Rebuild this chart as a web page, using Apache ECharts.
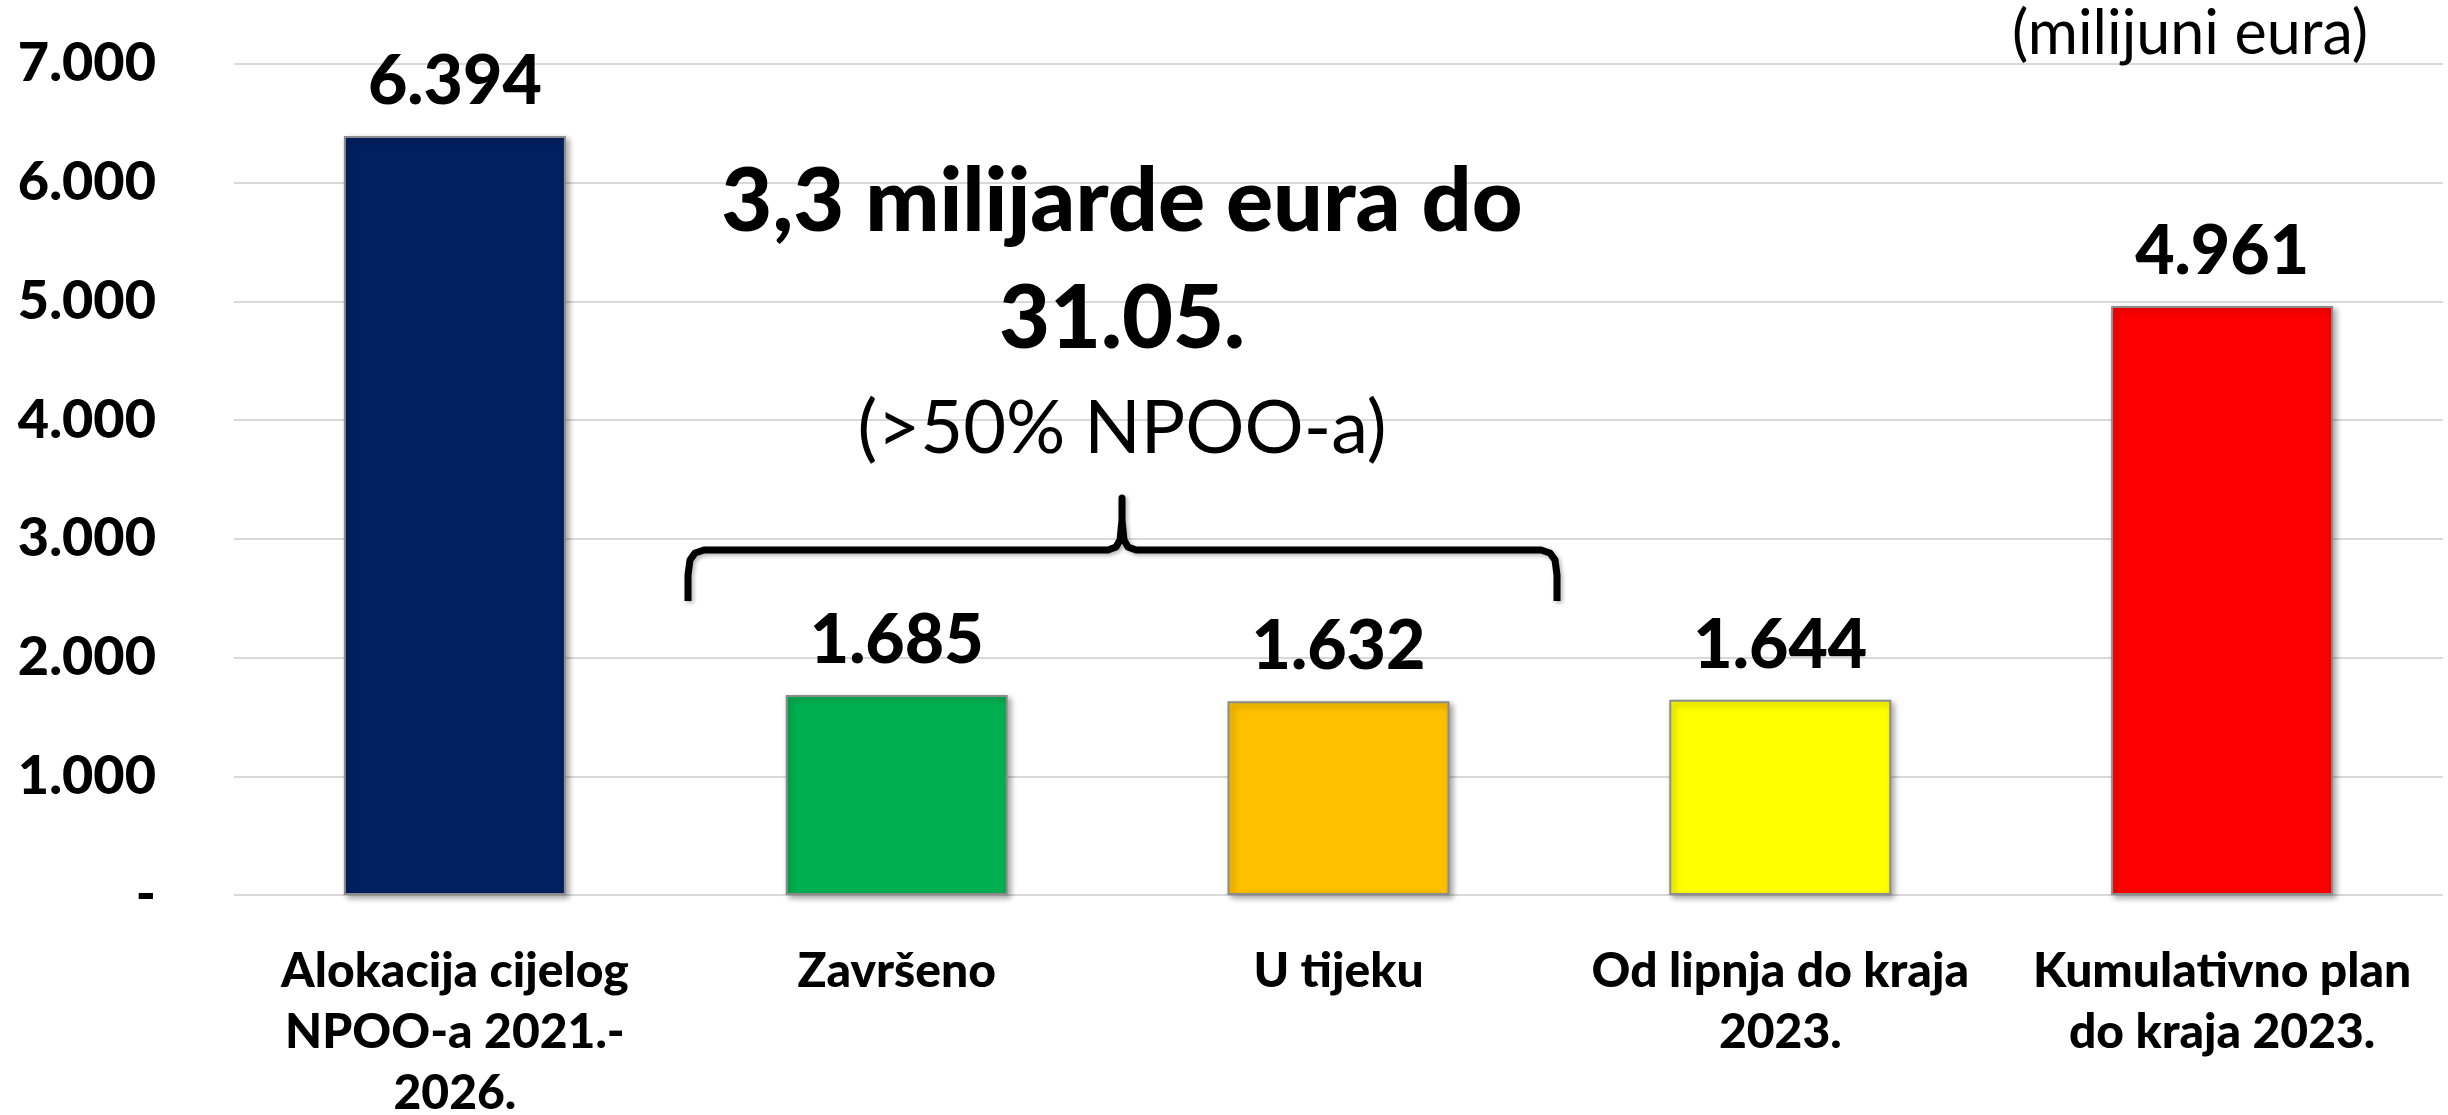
<!DOCTYPE html>
<html>
<head>
<meta charset="utf-8">
<script src="https://cdn.jsdelivr.net/npm/echarts@6/dist/echarts.min.js"></script>
<style>
  html, body { margin: 0; padding: 0; background: #fff; }
  #chart { width: 2448px; height: 1115px; }
</style>
</head>
<body>
<div id="chart"></div>
<script>
var categories = ['Alokacija cijelog\nNPOO-a 2021.-\n2026.', 'Završeno', 'U tijeku', 'Od lipnja do kraja\n2023.', 'Kumulativno plan\ndo kraja 2023.'];
var values = [6394, 1685, 1632, 1644, 4961];
var barColors = ['#002060', '#00B050', '#FFC000', '#FFFF00', '#FF0000'];
var yTicks = [0, 1000, 2000, 3000, 4000, 5000, 6000, 7000];

function fmt(v) {
    if (v === 0) return '-';
    return String(v).replace(/\B(?=(\d{3})+(?!\d))/g, '.');
}

var font = 'Lato, "Open Sans", sans-serif';

var chart = echarts.init(document.getElementById('chart'));
chart.setOption({
    animation: false,
    grid: { left: 234, right: 5, top: 64, bottom: 220, containLabel: false, outerBoundsMode: 'none' },
    xAxis: {
        type: 'category',
        data: categories,
        axisLine: { show: false },
        axisTick: { show: false },
        axisLabel: {
            interval: 0,
            margin: 46,
            color: '#000',
            fontFamily: font,
            fontWeight: 900,
            fontSize: 48,
            lineHeight: 61
        }
    },
    yAxis: {
        type: 'value',
        min: yTicks[0],
        max: yTicks[yTicks.length - 1],
        interval: 1000,
        axisLine: { show: false },
        axisTick: { show: false },
        splitLine: { lineStyle: { color: '#d9d9d9', width: 2 } },
        axisLabel: {
            margin: 78,
            color: '#000',
            fontFamily: font,
            fontWeight: 900,
            fontSize: 54,
            formatter: fmt
        }
    },
    series: [{
        type: 'bar',
        barWidth: 222,
        data: values.map(function (v, i) {
            return {
                value: v,
                itemStyle: { color: barColors[i] }
            };
        }),
        itemStyle: {
            borderColor: '#8c8c8c',
            borderWidth: 2,
            shadowColor: 'rgba(0,0,0,0.35)',
            shadowBlur: 6,
            shadowOffsetX: 3,
            shadowOffsetY: 3
        },
        label: {
            show: true,
            position: 'top',
            distance: 20,
            color: '#000',
            fontFamily: font,
            fontWeight: 900,
            fontSize: 68,
            formatter: function (p) { return fmt(p.value); }
        }
    }],
    graphic: [
        {
            type: 'text',
            left: 2012,
            top: 4,
            z: 100,
            style: { text: '(milijuni eura)', font: '61px ' + font, fill: '#000' }
        },
        {
            type: 'text',
            x: 1122, y: 203,
            z: 100,
            style: { text: '3,3 milijarde eura do', font: '900 88px ' + font, fill: '#000', textAlign: 'center', textVerticalAlign: 'middle' }
        },
        {
            type: 'text',
            x: 1122, y: 320,
            z: 100,
            style: { text: '31.05.', font: '900 88px ' + font, fill: '#000', textAlign: 'center', textVerticalAlign: 'middle' }
        },
        {
            type: 'text',
            x: 1122, y: 429,
            z: 100,
            style: { text: '(>50% NPOO-a)', font: '74px ' + font, fill: '#000', textAlign: 'center', textVerticalAlign: 'middle' }
        },
        {
            type: 'polyline',
            z: 100,
            shape: {
                points: [
                    [688, 601], [688, 575], [690, 560], [695, 553], [704, 550],
                    [1108, 550], [1116, 547], [1120, 540], [1122, 520], [1122, 498],
                    [1122, 520], [1124, 540], [1128, 547], [1136, 550],
                    [1541, 550], [1550, 553], [1555, 560], [1557, 575], [1557, 601]
                ]
            },
            style: {
                stroke: '#000', lineWidth: 7, fill: null, lineJoin: 'round', lineCap: 'butt',
                shadowColor: 'rgba(0,0,0,0.3)', shadowBlur: 4, shadowOffsetX: 2, shadowOffsetY: 2
            }
        }
    ]
});
</script>
</body>
</html>
